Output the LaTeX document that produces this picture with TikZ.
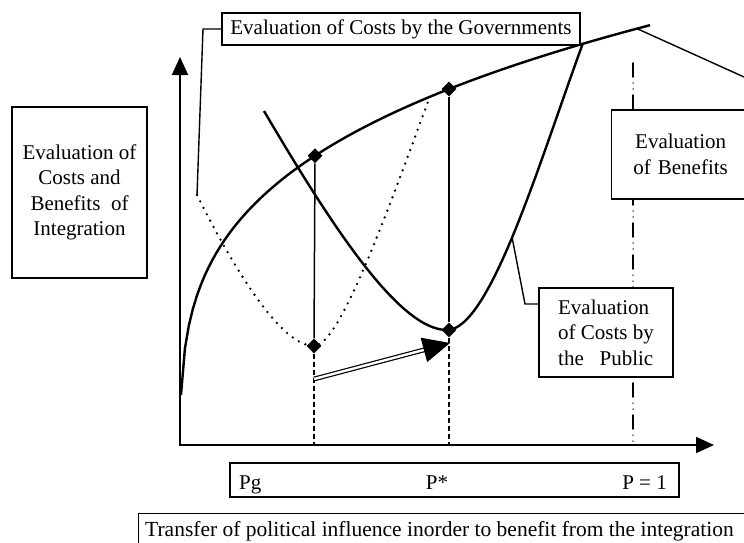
\documentclass[tikz,border=0pt]{standalone}
\usepackage{fontspec}
\setmainfont{Liberation Serif}
\usetikzlibrary{arrows.meta,shapes.geometric}

\begin{document}
\begin{tikzpicture}[x=1pt,y=-1pt,
  every node/.style={font=\fontsize{21}{25.5}\selectfont},
  labelbox/.style={draw, line width=1.3pt, fill=white, inner sep=0pt},
  curve/.style={line width=2.4pt, line join=round},
  govcurve/.style={line width=2.6pt, line cap=round, dash pattern=on 0pt off 7.2pt},
  guide/.style={line width=1.5pt},
  drop/.style={line width=1.5pt, dash pattern=on 5pt off 3pt},
  limitline/.style={line width=1.5pt, line cap=round,
    dash pattern=on 14pt off 6pt on 0pt off 6pt on 0pt off 6pt},
  leader/.style={line width=1.4pt, line join=miter},
  pointmark/.style={diamond, fill=black, inner sep=0pt, minimum size=15pt},
  axis/.style={line width=1.8pt,
    {Triangle[length=18pt,width=16pt]}-{Triangle[length=18pt,width=16pt]}},
  declare function={benefit(\t)=481.7-86.7*(\t-180)^0.27;},
]
\useasboundingbox (0,0) rectangle (744,542);

% axes
\coordinate (O) at (180,445);
\coordinate (ytip) at (180,57);
\coordinate (xtip) at (714,445);
\draw[axis] (ytip) -- (O) -- (xtip);

% line at P = 1
\coordinate (oneTop) at (633,63);
\coordinate (oneFoot) at (633,445);
\draw[limitline] (oneTop) -- (oneFoot);

% benefits curve
\draw[curve] plot[domain=181:650, samples=120] (\x, {benefit(\x)});

% costs by the public
\coordinate (pubStart) at (264,111);
\coordinate (pubLow) at (447,330);
\coordinate (pubEnd) at (583,43);
\draw[curve] (pubStart) .. controls (334,230) and (400,330) .. (pubLow)
  .. controls (490,330) and (540,160) .. (pubEnd);

% costs by the governments (dotted)
\coordinate (govStart) at (197,195);
\coordinate (govLow) at (314,346);
\coordinate (govEndTop) at (429,99);
\draw[govcurve] (govStart) .. controls (232,265) and (280,346) .. (govLow)
  .. controls (340,346) and (389,207) .. (govEndTop);

% marks
\node[pointmark] (mPgB) at (315,{benefit(315)}) {};
\node[pointmark] (mPsB) at (449,{benefit(449)}) {};
\node[pointmark] (mPgG) at (govLow) {};
\node[pointmark] (mPsP) at (449,330) {};

\coordinate (pgFoot) at (314,445);
\coordinate (psFoot) at (449,445);
\draw[guide] (mPgB) -- (mPgG);
\draw[drop] (mPgG) -- (pgFoot);
\draw[guide] (mPsB) -- (mPsP);
\draw[drop] (mPsP) -- (psFoot);

% shift of influence
\coordinate (shiftA) at (314,379);
\coordinate (shiftB) at (450,343);
\draw[double, double distance=2.4pt, line width=1.2pt,
  -{Triangle[length=27pt,width=25pt]}] (shiftA) -- (shiftB);

% labels
\node[labelbox, minimum width=358pt, minimum height=32pt] (govbox) at (401,29)
  {Evaluation of Costs by the Governments};
\node[labelbox, minimum width=135pt, minimum height=171pt, align=center] (axisbox)
  at (79.5,192.5) {Evaluation of\\Costs and\\Benefits\ \ of\\Integration};
\node[labelbox, anchor=west, text width=130pt, inner xsep=4pt, minimum height=89pt,
  align=center] (benbox) at (611,154.5) {Evaluation\\of Benefits};
\node[labelbox, minimum width=134pt, minimum height=89pt, align=left] (pubbox)
  at (606,332.5) {Evaluation\\of Costs by\\the\ \ \ Public};
\node[labelbox, minimum width=449pt, minimum height=34pt] (pbox) at (454.5,480) {};
\node[anchor=base west, inner sep=0pt] (pgLab) at (239,489) {Pg};
\node[anchor=base, inner sep=0pt] (psLab) at (437,489) {P*};
\node[anchor=base east, inner sep=0pt] (oneLab) at (667,489) {P = 1};
\node[labelbox, anchor=north west, minimum width=630pt, minimum height=45pt]
  (transferbox) at (138,513) {};
\node[anchor=base west, inner sep=0pt, font=\fontsize{21.5}{25.5}\selectfont]
  (transferLab) at (145,536)
  {Transfer of political influence inorder to benefit from the integration};

% leaders
\coordinate (govKnee) at (203,29);
\draw[leader] (govbox.west) -- (govKnee) -- (govStart);
\coordinate (benA) at (637,{benefit(637)});
\coordinate (benB) at (775,91);
\draw[leader] (benA) -- (benB);
\coordinate (pubA) at (512,237);
\coordinate (pubKnee) at (525,304);
\draw[leader] (pubA) -- (pubKnee) -- (pubKnee -| pubbox.west);
\end{tikzpicture}
\end{document}
